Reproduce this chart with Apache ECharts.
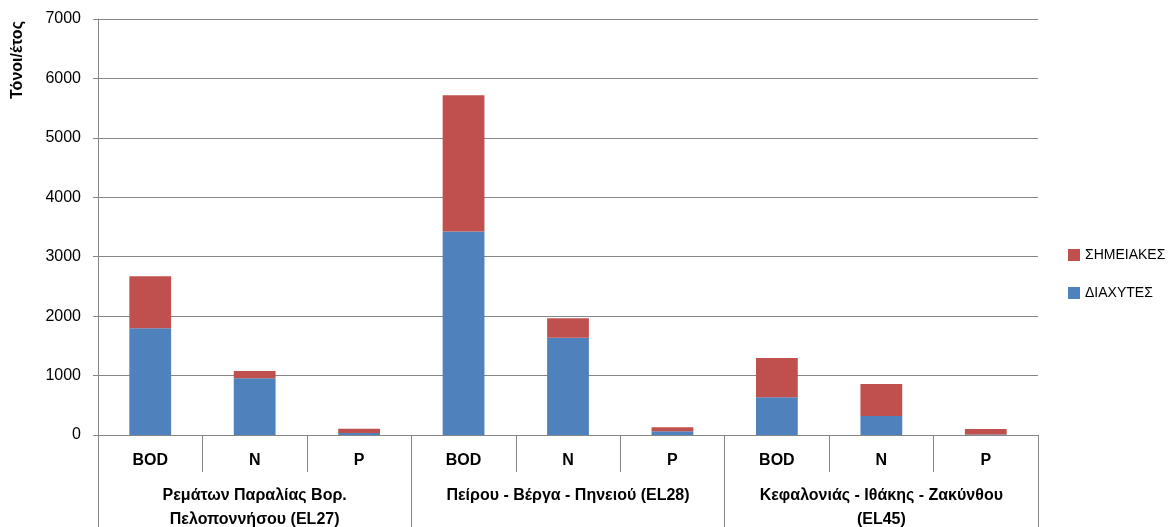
<!DOCTYPE html>
<html>
<head>
<meta charset="utf-8">
<script src="https://cdn.jsdelivr.net/npm/echarts@6/dist/echarts.min.js"></script>
<style>
  html, body { margin: 0; padding: 0; background: #fff; }
  #chart { width: 1173px; height: 527px; }
</style>
</head>
<body>
<div id="chart"></div>
<script>
// ---- data ----
const categories = ['BOD', 'N', 'P', 'BOD', 'N', 'P', 'BOD', 'N', 'P'];
const groups = [
  'Ρεμάτων Παραλίας Βορ.\nΠελοποννήσου (EL27)',
  'Πείρου - Βέργα - Πηνειού (EL28)',
  'Κεφαλονιάς - Ιθάκης - Ζακύνθου\n(EL45)'
];
const diffuse = [1795, 953, 35, 3424, 1636, 62, 634, 319, 10];   // ΔΙΑΧΥΤΕΣ
const point   = [877, 123, 70, 2295, 330, 67, 660, 538, 91];    // ΣΗΜΕΙΑΚΕΣ
const yTicks = [0, 1000, 2000, 3000, 4000, 5000, 6000, 7000];
const yTitle = 'Τόνοι/έτος';

const FONT = 'Liberation Sans';
const GRAY = '#868686';

const chart = echarts.init(document.getElementById('chart'), null, { renderer: 'canvas' });
chart.setOption({
  animation: false,
  backgroundColor: '#fff',
  textStyle: { fontFamily: FONT },
  grid: { left: 98, right: 135, top: 19, bottom: 92, containLabel: false, outerBoundsMode: 'none' },
  legend: {
    orient: 'vertical',
    left: 1068,
    top: 248,
    padding: 0,
    itemWidth: 12,
    itemHeight: 12,
    itemGap: 24,
    icon: 'rect',
    textStyle: { fontFamily: FONT, fontSize: 14, color: '#000' },
    data: ['ΣΗΜΕΙΑΚΕΣ', 'ΔΙΑΧΥΤΕΣ']
  },
  xAxis: [
    {
      type: 'category',
      data: categories,
      position: 'bottom',
      axisLine: { show: true, lineStyle: { color: GRAY, width: 1 } },
      axisTick: { show: true, interval: 0, length: 37, lineStyle: { color: GRAY } },
      axisLabel: { interval: 0, margin: 18, fontFamily: FONT, fontSize: 16, fontWeight: 'bold', color: '#000' },
      splitLine: { show: false }
    },
    {
      type: 'category',
      data: groups,
      position: 'bottom',
      axisLine: { show: false },
      axisTick: { show: true, interval: 0, length: 100, lineStyle: { color: GRAY } },
      axisLabel: {
        interval: 0, margin: 49, fontFamily: FONT, fontSize: 16, fontWeight: 'bold', color: '#000',
        lineHeight: 24
      },
      splitLine: { show: false }
    }
  ],
  yAxis: {
    type: 'value',
    min: yTicks[0],
    max: yTicks[yTicks.length - 1],
    interval: 1000,
    axisLine: { show: true, lineStyle: { color: GRAY } },
    axisTick: { show: true, length: 5, lineStyle: { color: GRAY } },
    axisLabel: { margin: 17, fontFamily: FONT, fontSize: 16, color: '#000', formatter: function (v) { return String(v); } },
    splitLine: { show: true, lineStyle: { color: GRAY, width: 1 } }
  },
  graphic: [{
    type: 'text',
    x: 18, y: 60,
    rotation: Math.PI / 2,
    style: {
      text: yTitle,
      font: 'bold 16px "' + FONT + '"',
      fill: '#000',
      align: 'center',
      verticalAlign: 'middle'
    }
  }],
  series: [
    {
      name: 'ΔΙΑΧΥΤΕΣ',
      type: 'bar',
      stack: 'total',
      data: diffuse,
      barWidth: '40%',
      itemStyle: { color: '#4F81BD' }
    },
    {
      name: 'ΣΗΜΕΙΑΚΕΣ',
      type: 'bar',
      stack: 'total',
      data: point,
      barWidth: '40%',
      itemStyle: { color: '#C0504D' }
    }
  ]
});
</script>
</body>
</html>
